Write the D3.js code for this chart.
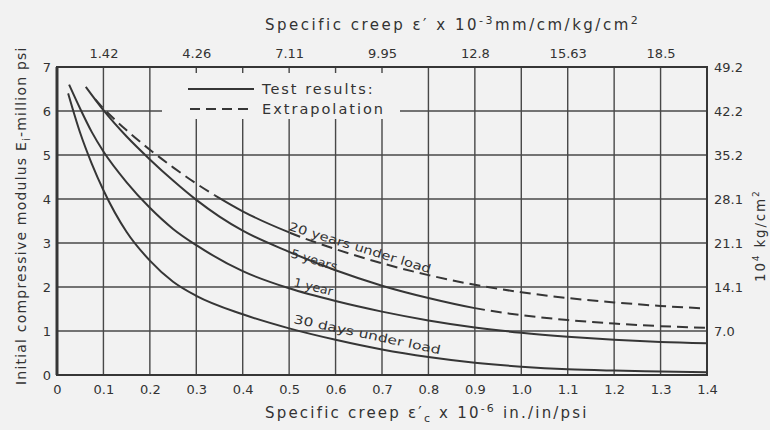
<!DOCTYPE html>
<html>
<head>
<meta charset="utf-8">
<script src="https://cdn.jsdelivr.net/npm/d3@7"></script>
<style>
  body { margin: 0; background: #f2f2f2; }
  svg { display: block; font-family: "DejaVu Sans", sans-serif; fill: #333; }
</style>
</head>
<body>
<div id="chart"></div>
<script>
// values: [specific creep, modulus]
const bottomTicks = [0, 0.1, 0.2, 0.3, 0.4, 0.5, 0.6, 0.7, 0.8, 0.9, 1.0, 1.1, 1.2, 1.3, 1.4];
const leftTicks = [0, 1, 2, 3, 4, 5, 6, 7];
const topTicks = [0.1, 0.3, 0.5, 0.7, 0.9, 1.1, 1.3];
const topLabels = ["1.42", "4.26", "7.11", "9.95", "12.8", "15.63", "18.5"];
const rightTicks = [1, 2, 3, 4, 5, 6, 7];
const rightLabels = ["7.0", "14.1", "21.1", "28.1", "35.2", "42.2", "49.2"];

const days30 = [[0.024, 6.4], [0.05, 5.5], [0.075, 4.8], [0.1, 4.2], [0.15, 3.25], [0.2, 2.6],
  [0.25, 2.12], [0.3, 1.8], [0.4, 1.38], [0.5, 1.06], [0.6, 0.8], [0.7, 0.58], [0.8, 0.41],
  [0.9, 0.28], [1.0, 0.19], [1.1, 0.13], [1.2, 0.1], [1.3, 0.08], [1.4, 0.06]];
const year1 = [[0.026, 6.6], [0.05, 6.05], [0.075, 5.52], [0.1, 5.08], [0.15, 4.38], [0.2, 3.8],
  [0.25, 3.32], [0.3, 2.95], [0.4, 2.36], [0.5, 1.97], [0.6, 1.68], [0.7, 1.44], [0.8, 1.24],
  [0.9, 1.08], [1.0, 0.96], [1.1, 0.87], [1.2, 0.8], [1.3, 0.75], [1.4, 0.72]];
const years5 = [[0.062, 6.55], [0.1, 6.02], [0.15, 5.42], [0.2, 4.9], [0.25, 4.42], [0.3, 3.98],
  [0.35, 3.6], [0.4, 3.28], [0.5, 2.8], [0.6, 2.38], [0.7, 2.03], [0.8, 1.75], [0.9, 1.52],
  [1.0, 1.36], [1.1, 1.25], [1.2, 1.17], [1.3, 1.11], [1.4, 1.07]];
const years20 = [[0.082, 6.27], [0.1, 6.06], [0.125, 5.8], [0.15, 5.56], [0.2, 5.12], [0.25, 4.72],
  [0.3, 4.35], [0.35, 4.02], [0.4, 3.72], [0.5, 3.24], [0.6, 2.86], [0.7, 2.54], [0.8, 2.27],
  [0.9, 2.05], [1.0, 1.88], [1.1, 1.75], [1.2, 1.65], [1.3, 1.57], [1.4, 1.51]];

// which stretches are drawn solid or dashed: [from, to, dashed]
const series = [
  { data: days30, parts: [[0, 1.4, false]] },
  { data: year1, parts: [[0, 1.4, false]] },
  { data: years5, parts: [[0, 0.9, false], [0.9, 1.4, true]] },
  { data: years20, parts: [[0, 0.34, true], [0.34, 0.5, false], [0.5, 1.4, true]] }
];

const Width = 770, Height = 430;
const ink = "#363636";
const x = d3.scaleLinear([0, 1.4], [57, 707]);
const y = d3.scaleLinear([0, 7], [375, 67]);

const svg = d3.select("#chart").append("svg")
  .attr("width", Width).attr("height", Height);

svg.append("rect").attr("width", Width).attr("height", Height).attr("fill", "#f2f2f2");

// grid
const grid = svg.append("g").attr("stroke", "#484848").attr("stroke-width", 1.4);
grid.selectAll(".v").data(bottomTicks.slice(1, -1)).join("line")
  .attr("x1", d => x(d)).attr("x2", d => x(d)).attr("y1", y(7)).attr("y2", y(0));
grid.selectAll(".h").data(leftTicks.slice(1, -1)).join("line")
  .attr("x1", x(0)).attr("x2", x(1.4)).attr("y1", d => y(d)).attr("y2", d => y(d));

// blank patch behind the legend
svg.append("rect").attr("x", 162).attr("y", 73).attr("width", 238).attr("height", 46)
  .attr("fill", "#f2f2f2");

// frame
svg.append("rect").attr("x", x(0)).attr("y", y(7))
  .attr("width", x(1.4) - x(0)).attr("height", y(0) - y(7))
  .attr("fill", "none").attr("stroke", ink).attr("stroke-width", 2);
svg.append("line").attr("x1", x(0)).attr("x2", x(0)).attr("y1", y(7)).attr("y2", y(0))
  .attr("stroke", ink).attr("stroke-width", 3);

// axes
const styleAxis = g => {
  g.select(".domain").remove();
  g.selectAll("text").attr("fill", "#333").style("font-size", "13px")
    .style("font-family", "DejaVu Sans, sans-serif");
};
svg.append("g").attr("transform", `translate(0,${y(0)})`)
  .call(d3.axisBottom(x).tickValues(bottomTicks).tickSize(0).tickPadding(10)
    .tickFormat(d => (d === 0 ? "0" : d3.format(".1f")(d))))
  .call(styleAxis);
svg.append("g").attr("transform", `translate(${x(0)},0)`)
  .call(d3.axisLeft(y).tickValues(leftTicks).tickSize(0).tickPadding(6)
    .tickFormat(d3.format("d")))
  .call(styleAxis);
svg.append("g").attr("transform", `translate(0,${y(7)})`)
  .call(d3.axisTop(x).tickValues(topTicks).tickSize(0).tickPadding(9)
    .tickFormat((d, i) => topLabels[i]))
  .call(styleAxis);
svg.append("g").attr("transform", `translate(${x(1.4)},0)`)
  .call(d3.axisRight(y).tickValues(rightTicks).tickSize(0).tickPadding(7)
    .tickFormat((d, i) => rightLabels[i]))
  .call(styleAxis);

// curves, split into solid / dashed pieces with clip rects
const line = d3.line().x(d => x(d[0])).y(d => y(d[1])).curve(d3.curveMonotoneX);
const defs = svg.append("defs");
let clipId = 0;
series.forEach(s => {
  s.parts.forEach(([a, b, dashed]) => {
    const id = "clip" + clipId++;
    defs.append("clipPath").attr("id", id).append("rect")
      .attr("x", x(a) - (a === 0 ? 5 : 0)).attr("y", 0)
      .attr("width", x(b) - x(a) + (a === 0 ? 5 : 0) + (b === 1.4 ? 2 : 0))
      .attr("height", Height);
    svg.append("path").datum(s.data)
      .attr("d", line)
      .attr("clip-path", `url(#${id})`)
      .attr("fill", "none").attr("stroke", ink).attr("stroke-width", 2)
      .attr("stroke-dasharray", dashed ? "11,6" : null);
  });
});

// legend
const legend = svg.append("g").style("font-size", "14.5px").attr("letter-spacing", 2);
legend.append("line").attr("x1", 188).attr("x2", 254).attr("y1", 89).attr("y2", 89)
  .attr("stroke", ink).attr("stroke-width", 2);
legend.append("text").attr("x", 262).attr("y", 94).text("Test results:");
legend.append("line").attr("x1", 190).attr("x2", 254).attr("y1", 109).attr("y2", 109)
  .attr("stroke", ink).attr("stroke-width", 2).attr("stroke-dasharray", "10,6");
legend.append("text").attr("x", 262).attr("y", 114).text("Extrapolation");

// curve labels
const curveLabels = [
  { t: "20 years under load", x: 288, y: 230, a: 17, len: 148 },
  { t: "5 years", x: 290, y: 257, a: 17, len: 48 },
  { t: "1 year", x: 293, y: 286, a: 14, len: 40 },
  { t: "30 days under load", x: 293, y: 323, a: 12, len: 150 }
];
svg.append("g").style("font-size", "12px")
  .selectAll("text").data(curveLabels).join("text")
  .attr("transform", d => `translate(${d.x},${d.y}) rotate(${d.a})`)
  .attr("textLength", d => d.len).attr("lengthAdjust", "spacingAndGlyphs")
  .text(d => d.t);

// titles
const bottomTitle = svg.append("text").attr("x", 265).attr("y", 418)
  .style("font-size", "15px").attr("letter-spacing", 2.2);
bottomTitle.append("tspan").text("Specific  creep  ε′");
bottomTitle.append("tspan").attr("dy", 4).style("font-size", "11px").text("c");
bottomTitle.append("tspan").attr("dy", -4).text(" x 10");
bottomTitle.append("tspan").attr("dy", -6).style("font-size", "11px").text("-6");
bottomTitle.append("tspan").attr("dy", 6).text(" in./in/psi");

const topTitle = svg.append("text").attr("x", 265).attr("y", 30)
  .style("font-size", "15px").attr("letter-spacing", 2.5);
topTitle.append("tspan").text("Specific  creep  ε′  x 10");
topTitle.append("tspan").attr("dy", -6).style("font-size", "11px").text("-3");
topTitle.append("tspan").attr("dy", 6).text("mm/cm/kg/cm");
topTitle.append("tspan").attr("dy", -6).style("font-size", "11px").text("2");

const leftTitle = svg.append("text")
  .attr("transform", "translate(26,385) rotate(-90)")
  .style("font-size", "14px").attr("letter-spacing", 1.2);
leftTitle.append("tspan").text("Initial  compressive  modulus  E");
leftTitle.append("tspan").attr("dy", 4).style("font-size", "10px").text("i");
leftTitle.append("tspan").attr("dy", -4).text("-million psi");

const rightTitle = svg.append("text")
  .attr("transform", "translate(765,282) rotate(-90)")
  .style("font-size", "13.5px").attr("letter-spacing", 1.8);
rightTitle.append("tspan").text("10");
rightTitle.append("tspan").attr("dy", -6).style("font-size", "9px").text("4");
rightTitle.append("tspan").attr("dy", 6).text("  kg/cm");
rightTitle.append("tspan").attr("dy", -6).style("font-size", "9px").text("2");
</script>
</body>
</html>
